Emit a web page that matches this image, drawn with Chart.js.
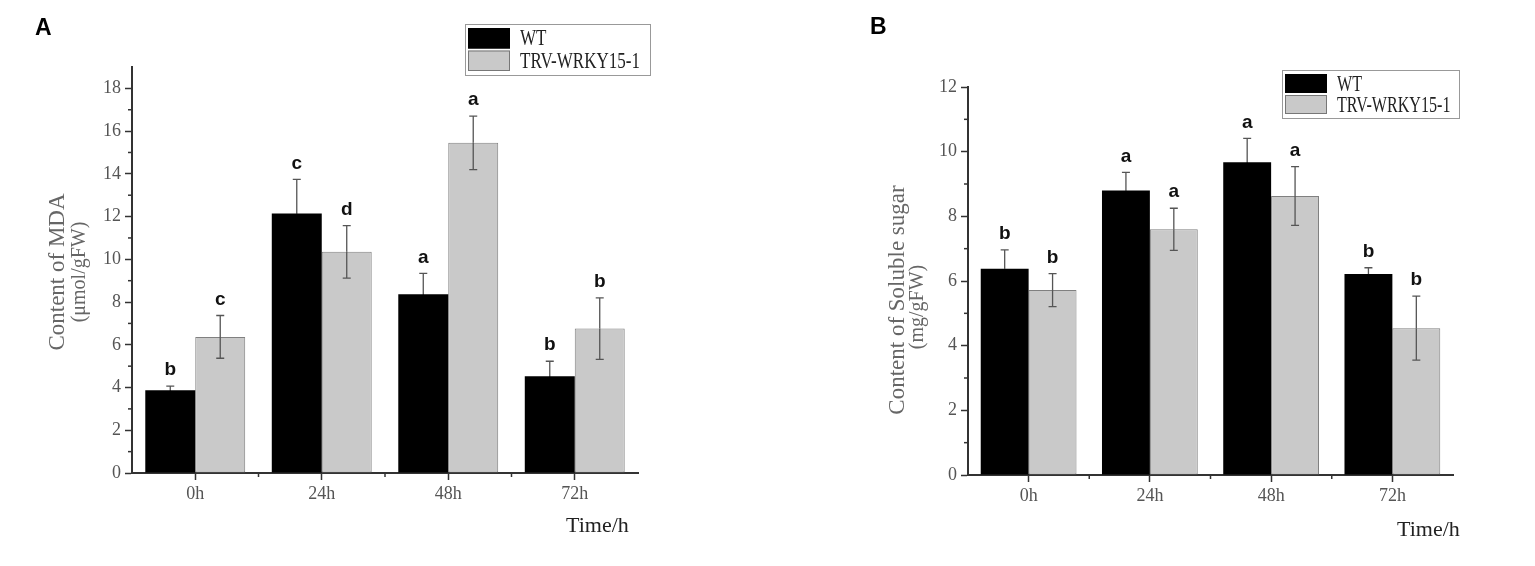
<!DOCTYPE html>
<html>
<head>
<meta charset="utf-8">
<script src="https://cdn.jsdelivr.net/npm/chart.js@4"></script>
<style>
  body { margin: 0; background: #fff; }
  canvas { position: absolute; top: 0; }
  #chartA { left: 0; }
  #chartB { left: 767px; }
</style>
</head>
<body>
<canvas id="chartA" width="767" height="566" style="width:767px;height:566px"></canvas>
<canvas id="chartB" width="768" height="566" style="width:768px;height:566px"></canvas>
<script>
// categories
const timePoints = ["0h", "24h", "48h", "72h"];
const seriesNames = ["WT", "TRV-WRKY15-1"];

// panel A: MDA content
const wtMda = [3.87, 12.14, 8.37, 4.53];
const wtMdaErr = [0.2, 1.6, 0.97, 0.7];
const trvMda = [6.37, 10.35, 15.45, 6.76];
const trvMdaErr = [1.0, 1.23, 1.25, 1.44];
const wtMdaLetters = ["b", "c", "a", "b"];
const trvMdaLetters = ["c", "d", "a", "b"];

// panel B: soluble sugar
const wtSugar = [6.38, 8.8, 9.67, 6.22];
const wtSugarErr = [0.58, 0.56, 0.74, 0.19];
const trvSugar = [5.72, 7.6, 8.63, 4.54];
const trvSugarErr = [0.51, 0.65, 0.91, 0.99];
const wtSugarLetters = ["b", "a", "a", "b"];
const trvSugarLetters = ["b", "a", "a", "b"];

const SERIF = "'Liberation Serif', 'DejaVu Serif', serif";
const SANS = "'Liberation Sans', Arial, sans-serif";
const AXIS = "#333";
const GREY_FILL = "#c9c9c9";

function text(ctx, str, x, y, font, color, align, sx, rot) {
  ctx.save();
  ctx.translate(x, y);
  if (rot) ctx.rotate(rot);
  ctx.scale(sx || 1, 1);
  ctx.font = font;
  ctx.fillStyle = color;
  ctx.textAlign = align || "left";
  ctx.textBaseline = "middle";
  ctx.fillText(str, 0, 0);
  ctx.restore();
}

// draws minor ticks, error bars, letters, legend and titles
const extrasPlugin = {
  id: "extras",
  afterDraw(chart, args, opts) {
    const ctx = chart.ctx;
    const area = chart.chartArea;
    const xs = chart.scales.x;
    const ys = chart.scales.y;

    ctx.save();
    ctx.strokeStyle = AXIS;
    ctx.lineWidth = 1.5;
    // minor y ticks
    for (let v = 1; v < opts.yMax; v += 2) {
      const py = ys.getPixelForValue(v);
      ctx.beginPath();
      ctx.moveTo(area.left - 4, py);
      ctx.lineTo(area.left, py);
      ctx.stroke();
    }
    // minor x ticks between groups
    for (let i = 0; i < timePoints.length - 1; i++) {
      const px = (xs.getPixelForValue(i) + xs.getPixelForValue(i + 1)) / 2;
      ctx.beginPath();
      ctx.moveTo(px, area.bottom);
      ctx.lineTo(px, area.bottom + 4);
      ctx.stroke();
    }
    ctx.restore();

    // error bars + significance letters
    chart.data.datasets.forEach((ds, di) => {
      const meta = chart.getDatasetMeta(di);
      meta.data.forEach((bar, i) => {
        const v = ds.data[i];
        const e = ds.errors[i];
        const top = ys.getPixelForValue(v + e);
        const mid = ys.getPixelForValue(v);
        const bot = ys.getPixelForValue(v - e);
        ctx.save();
        ctx.lineWidth = 1.3;
        ctx.strokeStyle = "#555";
        ctx.beginPath();
        ctx.moveTo(bar.x, top);
        ctx.lineTo(bar.x, mid);
        ctx.moveTo(bar.x - 4, top);
        ctx.lineTo(bar.x + 4, top);
        ctx.stroke();
        // lower half sits inside the bar
        ctx.strokeStyle = ds.lowerErrColor;
        ctx.beginPath();
        ctx.moveTo(bar.x, mid);
        ctx.lineTo(bar.x, bot);
        ctx.moveTo(bar.x - 4, bot);
        ctx.lineTo(bar.x + 4, bot);
        ctx.stroke();
        ctx.restore();
        text(ctx, ds.letters[i], bar.x, top - 16, "bold 19px " + SANS, "#111", "center");
      });
    });

    // legend box
    const lg = opts.legend;
    ctx.save();
    ctx.fillStyle = "#fff";
    ctx.strokeStyle = "#999";
    ctx.lineWidth = 1;
    ctx.fillRect(lg.x, lg.y, lg.w, lg.h);
    ctx.strokeRect(lg.x + 0.5, lg.y + 0.5, lg.w, lg.h);
    chart.data.datasets.forEach((ds, di) => {
      const sy = lg.y + 4 + di * (lg.h - 6) / 2;
      const sh = (lg.h - 6) / 2 - 2;
      ctx.fillStyle = ds.backgroundColor;
      ctx.fillRect(lg.x + 3, sy, 42, sh);
      ctx.strokeStyle = di === 0 ? "#000" : "#777";
      ctx.strokeRect(lg.x + 3.5, sy + 0.5, 41, sh - 1);
      text(ctx, ds.label, lg.x + 55, sy + sh / 2 + 1, "23px " + SERIF, "#222", "left", lg.sx);
    });
    ctx.restore();

    // y-axis title (two lines, rotated)
    const yt = opts.yTitle;
    text(ctx, yt.line1, yt.x1, yt.y1, "23px " + SERIF, "#666", "center", 1, -Math.PI / 2);
    text(ctx, yt.line2, yt.x2, yt.y2, "20px " + SERIF, "#666", "center", 1, -Math.PI / 2);

    // x-axis title
    text(ctx, "Time/h", opts.xTitle.x, opts.xTitle.y, "22px " + SERIF, "#222", "left");

    // panel letter
    text(ctx, opts.panel.text, opts.panel.x, opts.panel.y, "bold 23px " + SANS, "#000", "left");
  },
};

function makeChart(id, wt, wtErr, wtLetters, trv, trvErr, trvLetters, geo) {
  const canvas = document.getElementById(id);
  return new Chart(canvas.getContext("2d"), {
    type: "bar",
    data: {
      labels: timePoints,
      datasets: [
        {
          label: seriesNames[0],
          data: wt,
          errors: wtErr,
          letters: wtLetters,
          lowerErrColor: "#000",
          backgroundColor: "#000",
          borderColor: "#000",
          borderWidth: 0,
          categoryPercentage: 0.79,
          barPercentage: 1.0,
        },
        {
          label: seriesNames[1],
          data: trv,
          errors: trvErr,
          letters: trvLetters,
          lowerErrColor: "#555",
          backgroundColor: GREY_FILL,
          borderColor: "#808080",
          borderWidth: 1,
          borderSkipped: false,
          categoryPercentage: 0.79,
          barPercentage: 1.0,
        },
      ],
    },
    options: {
      responsive: false,
      animation: false,
      devicePixelRatio: 1,
      layout: { padding: geo.padding },
      plugins: {
        legend: { display: false },
        tooltip: { enabled: false },
        extras: geo.extras,
      },
      scales: {
        x: {
          afterFit: (s) => { s.height = 40; },
          grid: {
            offset: false,
            drawOnChartArea: false,
            drawTicks: true,
            tickLength: 7,
            tickColor: AXIS,
            tickWidth: 1.5,
          },
          border: { display: true, color: AXIS, width: 2 },
          ticks: {
            color: "#555",
            padding: 3,
            font: { family: SERIF, size: 18 },
          },
        },
        y: {
          min: 0,
          max: geo.extras.yMax,
          afterFit: (s) => { s.width = 50; },
          grid: {
            drawOnChartArea: false,
            drawTicks: true,
            tickLength: 7,
            tickColor: AXIS,
            tickWidth: 1.5,
          },
          border: { display: true, color: AXIS, width: 2 },
          ticks: {
            stepSize: 2,
            includeBounds: false,
            color: "#555",
            padding: 4,
            font: { family: SERIF, size: 18 },
          },
        },
      },
    },
    plugins: [extrasPlugin],
  });
}

makeChart("chartA", wtMda, wtMdaErr, wtMdaLetters, trvMda, trvMdaErr, trvMdaLetters, {
  padding: { left: 82, right: 129, top: 67, bottom: 53 },
  extras: {
    yMax: 19,
    legend: { x: 465, y: 24, w: 185, h: 51, sx: 0.74 },
    yTitle: { line1: "Content of MDA", x1: 58, y1: 272, line2: "(μmol/gFW)", x2: 80, y2: 272 },
    xTitle: { x: 566, y: 526 },
    panel: { text: "A", x: 35, y: 29 },
  },
});

makeChart("chartB", wtSugar, wtSugarErr, wtSugarLetters, trvSugar, trvSugarErr, trvSugarLetters, {
  padding: { left: 151, right: 82, top: 87, bottom: 51 },
  extras: {
    yMax: 12,
    legend: { x: 515, y: 70, w: 177, h: 48, sx: 0.7 },
    yTitle: { line1: "Content of Soluble sugar", x1: 131, y1: 300, line2: "(mg/gFW)", x2: 151, y2: 307 },
    xTitle: { x: 630, y: 530 },
    panel: { text: "B", x: 103, y: 28 },
  },
});
</script>
</body>
</html>
